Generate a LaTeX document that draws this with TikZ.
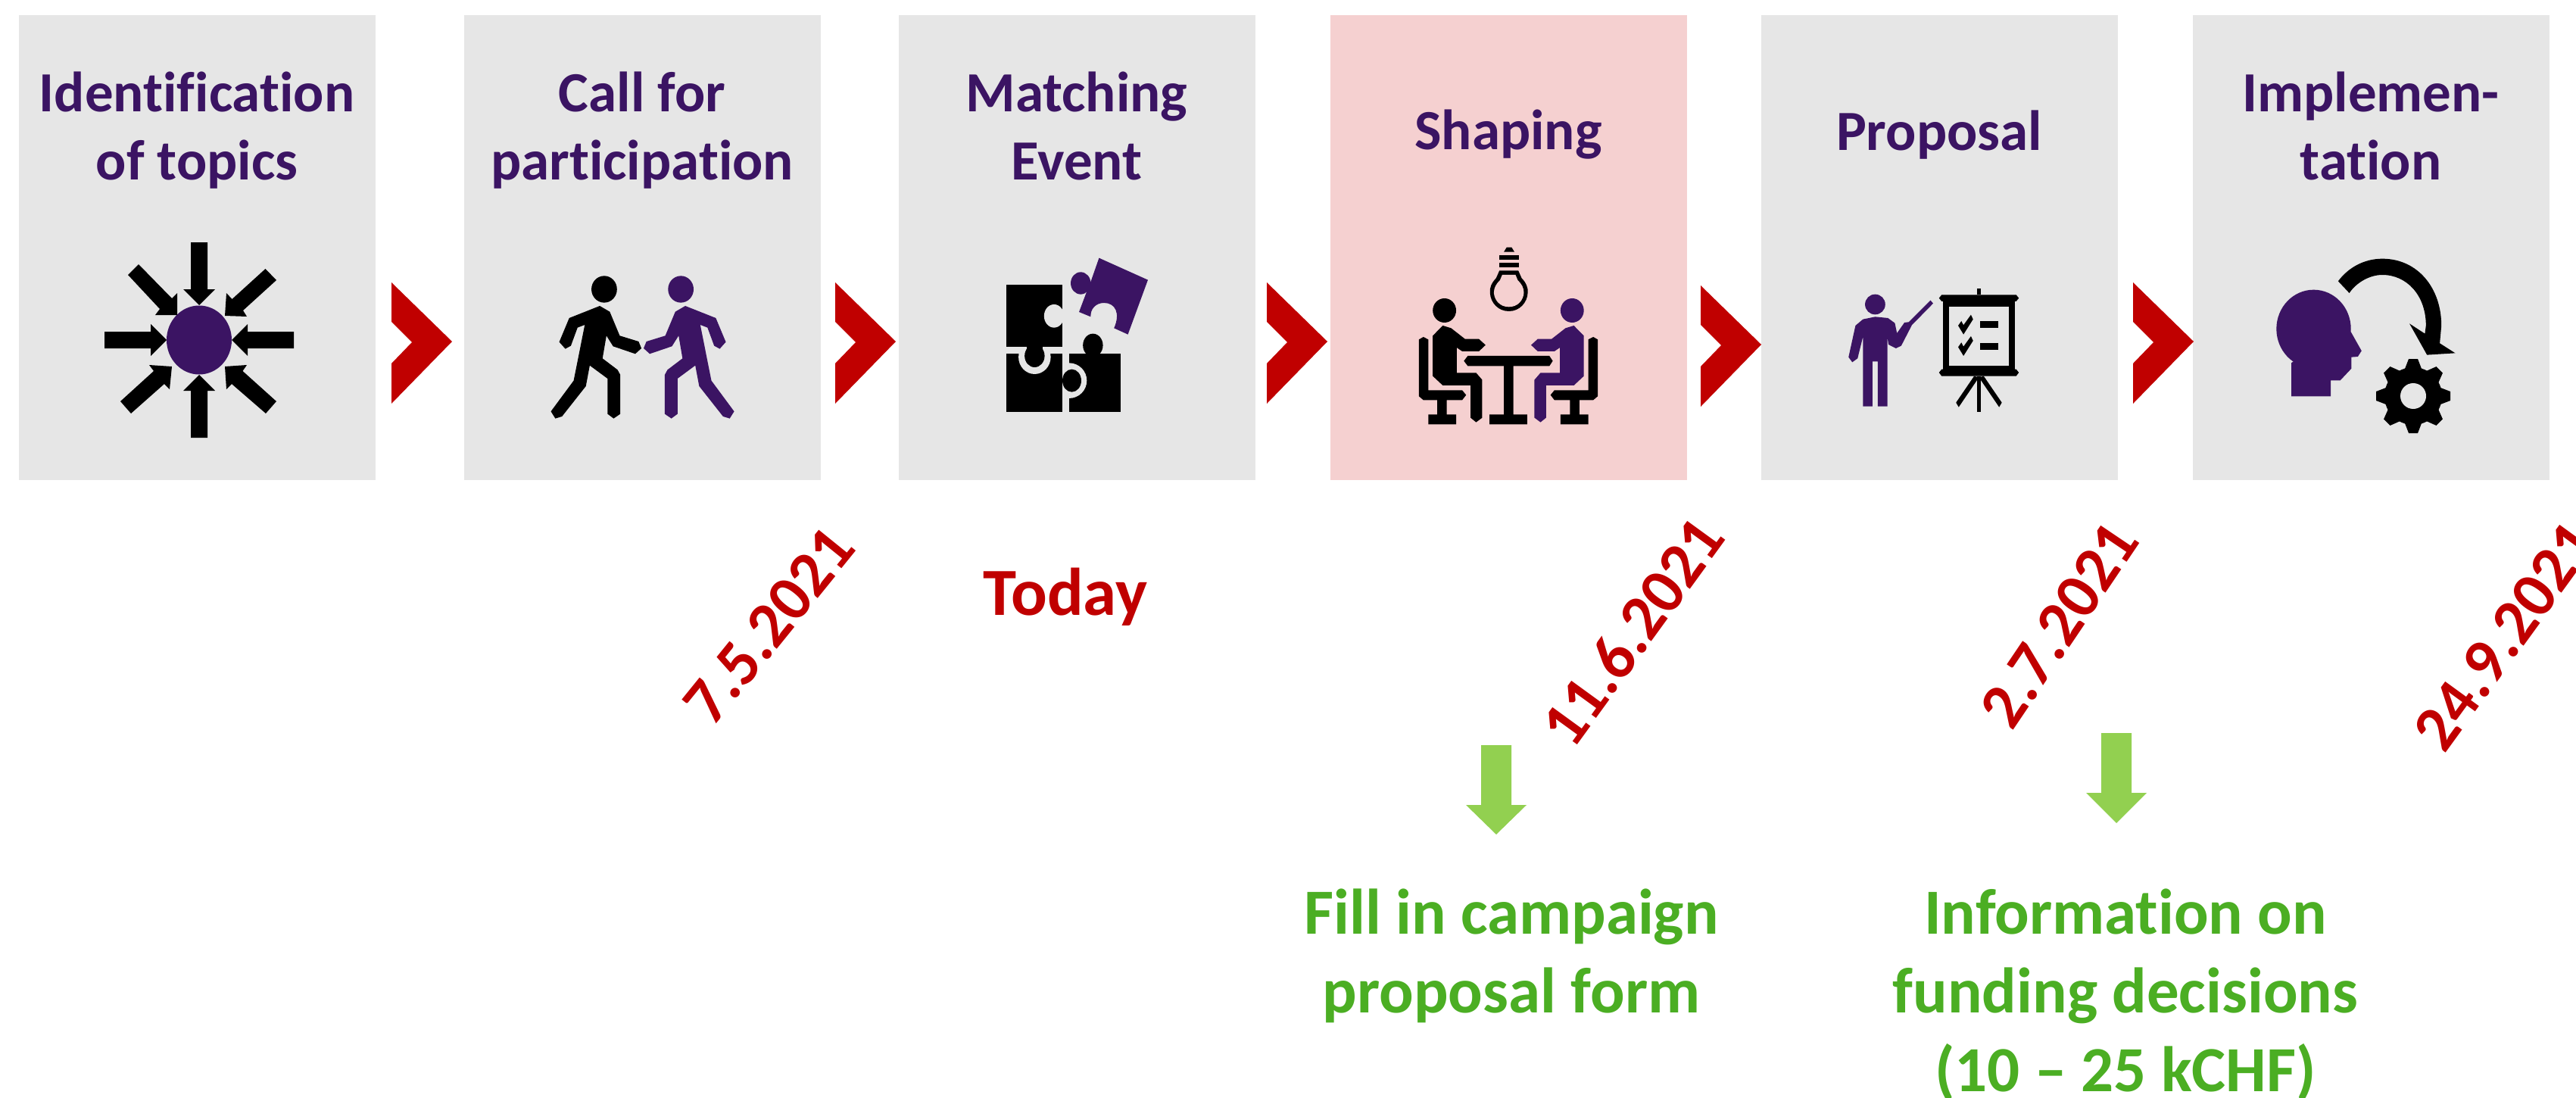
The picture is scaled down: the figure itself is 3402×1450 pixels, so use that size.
\documentclass[tikz,border=0pt]{standalone}
\usepackage{fontspec}
\setmainfont[Ligatures=NoCommon]{Carlito}
\definecolor{pur}{HTML}{3B1463}
\definecolor{redc}{HTML}{C00000}
\definecolor{grn}{HTML}{4BAE23}
\definecolor{grna}{HTML}{92D050}
\definecolor{boxg}{HTML}{E6E6E6}
\definecolor{boxp}{HTML}{F5D0D0}
\tikzset{
 pbox/.style={fill=boxg,draw=none,inner sep=0pt,minimum width=471pt,minimum height=614pt,anchor=north west},
 ttl/.style={text=pur,font=\bfseries\fontsize{75}{90}\selectfont,align=center,inner sep=0pt},
 dat/.style={text=redc,font=\bfseries\fontsize{85}{90}\selectfont,inner sep=0pt},
 gtx/.style={text=grn,font=\bfseries\fontsize{85}{104}\selectfont,align=center,inner sep=0pt},
 ch/.style={fill=redc},
 k/.style={fill=black},
 p/.style={fill=pur},
 zl/.style={shift={(0,280)},xscale=0.7334,yscale=0.3333},
 zm/.style={shift={(1150,280)},xscale=0.7334,yscale=0.3333},
 zr/.style={shift={(2300,280)},xscale=0.7028,yscale=0.3333}
}
\newcommand{\chev}[2]{\fill[ch] (#1,#2) -- ++(80,78) -- ++(-80,82) -- ++(0,-53) -- ++(27,-28) -- ++(-27,-27) -- cycle;}
\newcommand{\walkerpath}{(1080,372) -- (1098,395) -- (1116,490) -- (1150,513) -- (1155,540) -- (1144,562) -- (1104,532) -- (1092,490) -- (1085,580) -- (1112,625) -- (1117,645) -- (1117,800) -- (1105,818) -- (1094,800) -- (1094,660) -- (1062,608) -- (1055,690) -- (1012,810) -- (1000,818) -- (992,790) -- (1033,668) -- (1053,447) -- (1040,458) -- (1028,530) -- (1018,542) -- (1007,515) -- (1025,420) -- cycle}
\newcommand{\sitterpath}{(1012,490) -- (1030,450) -- (1045,460) -- (1070,503) -- (1095,503) -- (1107,527) -- (1095,552) -- (1065,552) -- (1055,537) -- (1055,637) -- (1090,637) -- (1101,665) -- (1101,815) -- (1090,833) -- (1080,815) -- (1080,687) -- (1030,687) -- (1012,650) -- cycle}
\newcommand{\chairpath}{(987,505) -- (995,495) -- (1004,505) -- (1004,706) -- (1065,706) -- (1072,725) -- (1065,745) -- (1037,745) -- (1037,802) -- (1054,802) -- (1054,841) -- (1004,841) -- (1004,802) -- (1020,802) -- (1020,745) -- (995,745) -- (987,730) -- cycle}
\newcommand{\checkmk}[1]{\fill[k,yshift=#1] (431,407) -- (435,425) -- (417,485) -- (407,450) -- (413,432) -- (417,448) -- cycle;}
\begin{document}
\begin{tikzpicture}[x=1pt,y=-1pt]
\useasboundingbox (0,0) rectangle (3402,1450);
\node[pbox] (b1) at (25,20) {};
\node[pbox] (b2) at (613,20) {};
\node[pbox] (b3) at (1187,20) {};
\node[pbox,fill=boxp] (b4) at (1757,20) {};
\node[pbox] (b5) at (2326,20) {};
\node[pbox] (b6) at (2896,20) {};
\chev{517}{373}\chev{1103}{373}\chev{1673}{373}\chev{2246}{377}\chev{2817}{373}
\node[ttl] (t1) at (260,172) {Identification\\of topics};
\node[ttl] (t2) at (848,172) {Call for\\participation};
\node[ttl] (t3) at (1422,166) {Matching\\Event};
\node[ttl] (t4) at (1992,178) {Shaping};
\node[ttl] (t5) at (2561,178) {Proposal};
\node[ttl] (t6) at (3131,166) {Implemen-\\tation};
\node[dat,rotate=51] (d1) at (1016,826) {7.5.2021};
\node[text=redc,font=\bfseries\fontsize{89}{90}\selectfont,inner sep=0pt] (today) at (1407,788) {Today};
\node[dat,rotate=54] (d2) at (2156,834) {11.6.2021};
\node[dat,rotate=56] (d3) at (2720,825) {2.7.2021};
\node[dat,rotate=54] (d4) at (3308,840) {24.9.2021};
% green arrows
\fill[grna] (1956,984) rectangle (1996,1063) (1936,1063) -- (2016,1063) -- (1976,1102) -- cycle;
\fill[grna] (2775,968) rectangle (2815,1047) (2755,1047) -- (2835,1047) -- (2795,1087) -- cycle;
\node[gtx] (g1) at (1996,1262) {Fill in campaign\\proposal form};
\node[gtx] (g2) at (2807,1314) {Information on\\funding decisions\\(10 – 25 kCHF)};
% icon 1: converging arrows
\begin{scope}[shift={(263,449)}]
\foreach \a in {0,180}{\fill[k,rotate=\a] (-11,-129) rectangle (11,-67) (-21,-67) -- (21,-67) -- (0,-46) -- cycle;}
\foreach \a in {90,270}{\fill[k,rotate=\a] (-11,-125) rectangle (11,-64) (-21,-64) -- (21,-64) -- (0,-43) -- cycle;}
\fill[p] (0,0) ellipse (43 and 45.5);
\end{scope}
\fill[k] (183,349) -- (227,394) -- (234,387) -- (234,416) -- (205,416) -- (211,408) -- (169,363) -- cycle;
\fill[k] (365,370) -- (321,410) -- (326,418) -- (297,417) -- (299,387) -- (306.5,395) -- (350.5,355) -- cycle;
\fill[k] (159,530) -- (173,546) -- (217,507) -- (224,514) -- (227,484) -- (197,482) -- (203,490) -- cycle;
\fill[k] (365,530) -- (351,546) -- (306,507) -- (299,514) -- (297,484) -- (326,482) -- (320.5,490) -- cycle;
% icon 2: two walkers
\begin{scope}[zl]
\fill[k] (1088,306) ellipse (23 and 53);
\fill[p] (1226,306) ellipse (23 and 53);
\fill[k] \walkerpath;
\begin{scope}[shift={(2314,0)},xscale=-1]\fill[p] \walkerpath;\end{scope}
\end{scope}
% icon 3: puzzle
\begin{scope}[zm]
\fill[k] (357,562) rectangle (450,793);
\fill[k] (400,528) ellipse (18 and 46);
\fill[boxg] (357,668) ellipse (32 and 70);
\fill[k] (244,562) rectangle (345,793);
\fill[boxg] (295,575) ellipse (29 and 67);
\fill[boxg] (244,535) rectangle (345,562);
\fill[boxg] (345,562) rectangle (357,793);
\fill[k] (244,287) rectangle (345,535);
\fill[boxg] (330,412) ellipse (18 and 46);
\fill[k] (295,570) ellipse (18 and 45);
\fill[k] (281,530) rectangle (309,560);
\fill[k] (362,668) ellipse (17 and 45);
\fill[p] (378,282) ellipse (18 and 44);
\fill[p] (411,182) -- (499,269) -- (463,485) -- (438,460) .. controls (450,400) and (440,360) .. (420,360) .. controls (405,360) and (395,385) .. (396,415) -- (375,396) -- (388,320) -- (397,270) -- cycle;
\end{scope}
% icon 4: meeting
\begin{scope}[zm]
\fill[k] (1140,158) -- (1145,140) -- (1154,140) -- (1159,158) -- cycle;
\fill[k] (1132,170) rectangle (1167,188);
\fill[k] (1132,200) rectangle (1167,218);
\fill[k] (1132,232) -- (1166,232) -- (1172,262) .. controls (1180,280) and (1184,300) .. (1183,320) .. controls (1182,360) and (1168,393) .. (1149,393) .. controls (1130,393) and (1116,360) .. (1115,320) .. controls (1114,300) and (1118,280) .. (1126,262) -- cycle;
\fill[boxp] (1137,249) -- (1161,249) -- (1165,270) .. controls (1172,285) and (1176,300) .. (1176,320) .. controls (1175,350) and (1165,376) .. (1149,376) .. controls (1133,376) and (1123,350) .. (1122,320) .. controls (1122,300) and (1126,285) .. (1133,270) -- cycle;
\fill[k] (1033,390) ellipse (21 and 48);
\fill[p] (1263,390) ellipse (21 and 48);
\fill[k] \sitterpath;
\fill[k] \chairpath;
\begin{scope}[shift={(2296,0)},xscale=-1]
\fill[p] \sitterpath;
\fill[k] \chairpath;
\end{scope}
\fill[k] (1075,570) -- (1222,570) -- (1228,590) -- (1222,610) -- (1157,610) -- (1157,802) -- (1182,802) -- (1182,841) -- (1114,841) -- (1114,802) -- (1140,802) -- (1140,610) -- (1075,610) -- (1068,590) -- cycle;
\end{scope}
% icon 5: presenter
\begin{scope}[zr]
\fill[p] (251,366) ellipse (19 and 40);
\fill[p] (251,415) -- (275,420) -- (288,440) -- (292,480) -- (306,438) -- (314,436) -- (355,350) -- (360,362) -- (320,448) -- (300,530) -- (290,540) -- (276,525) -- (274,495) -- (274,770) -- (256,770) -- (256,592) -- (246,592) -- (246,770) -- (228,770) -- (228,495) -- (218,580) -- (208,595) -- (201,575) -- (214,450) -- (228,425) -- cycle;
\fill[k] (443,303) rectangle (449,328);
\fill[k] (376,328) -- (516,328) -- (521,341) -- (516,354) -- (376,354) -- (371,341) -- cycle;
\fill[k] (376,623) -- (516,623) -- (521,636) -- (516,650) -- (376,650) -- (371,636) -- cycle;
\fill[k] (378,354) rectangle (514,623);
\fill[boxg] (390,374) rectangle (502,610);
\checkmk{0pt}\checkmk{-85pt}
\fill[k] (448,432) rectangle (483,459);
\fill[k] (448,519) rectangle (483,546);
\fill[k] (443,650) rectangle (449,792);
\fill[k] (437,650) -- (403,755) -- (408,773) -- (446,655) -- cycle;
\fill[k] (455,650) -- (489,755) -- (484,773) -- (446,655) -- cycle;
% icon 6: head, arrow, gear
\fill[p] (1075,463) ellipse (70 and 155);
\fill[p] (1033,730) -- (1033,598) -- (1100,500) -- (1145,475) -- (1165,550) -- (1158,573) -- (1146,575) -- (1146,620) -- (1125,667) -- (1107,667) -- (1107,730) -- cycle;
\fill[k] (1121,274) .. controls (1140,220) and (1170,185) .. (1204,185) .. controls (1270,185) and (1315,300) .. (1315,450) -- (1312,520) -- (1341,559) -- (1288,566) -- (1255,442) -- (1284,482) -- (1286,450) .. controls (1286,330) and (1250,249) .. (1204,249) .. controls (1180,249) and (1155,280) .. (1142,321) -- cycle;
\end{scope}
\begin{scope}[shift={(3187,523)}]
\fill[k] (0,0) circle (38);
\foreach \a in {0,45,...,315}{\fill[k,rotate=\a] (-11,-36) -- (-6,-49) -- (6,-49) -- (11,-36) -- cycle;}
\fill[boxg] (0,0) circle (17);
\end{scope}
\end{tikzpicture}
\end{document}
